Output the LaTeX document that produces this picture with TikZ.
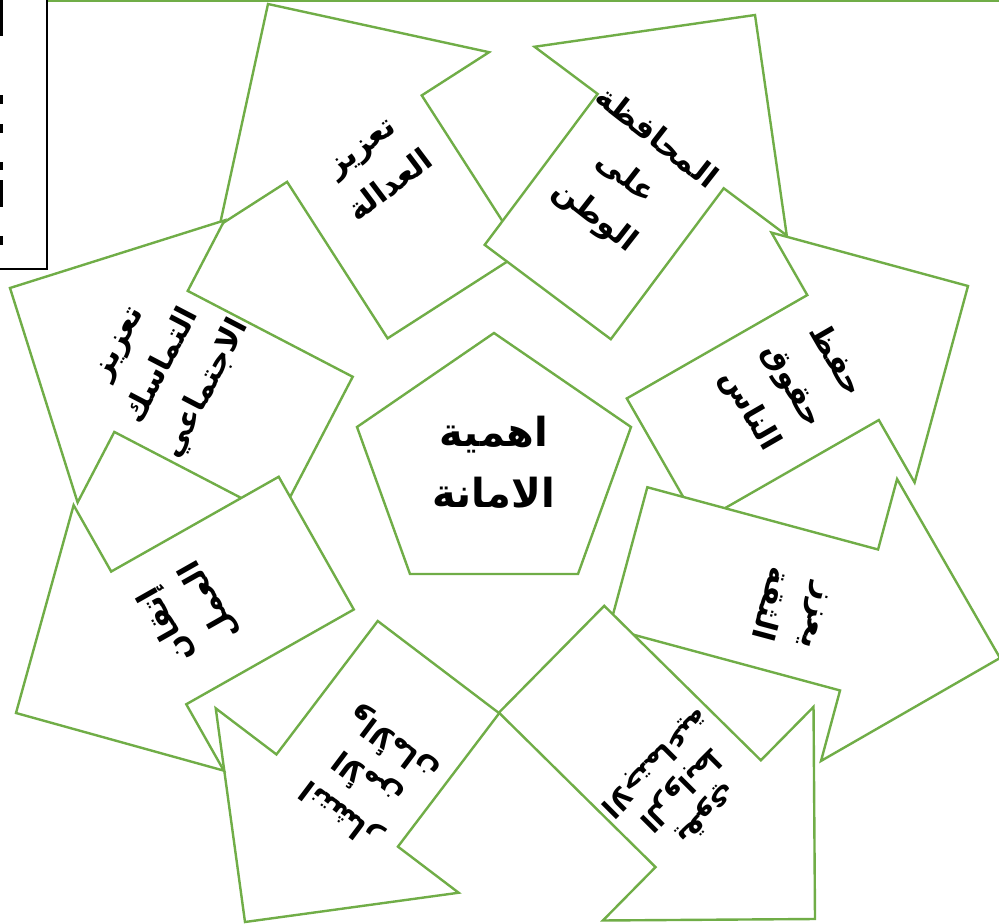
\documentclass[tikz,border=0pt]{standalone}
\usepackage{fontspec}
\newfontfamily\arabicfont[Script=Arabic]{DejaVu Sans}
\TeXXeTstate=1
\definecolor{agreen}{RGB}{112,173,71}
\newcommand\ar[1]{\beginR #1\endR}
\tikzset{
  arr/.style={draw=agreen, fill=white, line width=1.8pt, line join=miter},
  atext/.style={font=\arabicfont\bfseries\fontsize{23}{37}\selectfont, align=center, inner sep=0pt},
  btext/.style={font=\arabicfont\bfseries\fontsize{21}{28}\selectfont, align=center, inner sep=0pt},
  dtext/.style={font=\arabicfont\bfseries\fontsize{22}{33}\selectfont, align=center, inner sep=0pt},
  ctext/.style={font=\arabicfont\bfseries\fontsize{30}{46}\selectfont, align=center, inner sep=0pt},
}
% tip x, tip y, angle (image coords, deg), length, head width
\newcommand\barrow[5]{%
  \begin{scope}[shift={(#1,#2)}, rotate=-#3]
    \draw[arr] (0,0) -- (-#5/2, #5/2) -- (-#5/2, #5/4) -- (-#4, #5/4) -- (-#4,-#5/4) -- (-#5/2,-#5/4) -- (-#5/2,-#5/2) -- cycle;
  \end{scope}}
\begin{document}
\begin{tikzpicture}[x=0.75pt,y=-0.75pt]
\useasboundingbox (0,0) rectangle (999,924);
% top green line and black box
\draw[agreen, line width=1.8pt] (47,1) -- (999,1);
\draw[black, line width=2.2pt] (-5,-5) rectangle (47,269);
\foreach \a/\b in {0/36,95/104,124/133,162/170,180/207,236/245}
  \fill[black] (0,\a) rectangle (3,\b);
% arrows (bottom to top)
\barrow{268}{4}{-122.7}{346}{320}   % TL
\barrow{755}{15}{-53.2}{346}{315}   % TR
\barrow{10}{288}{207.5}{345}{318}   % L
\barrow{968}{286}{-29.8}{352}{288}  % R
\barrow{1000}{658}{15.1}{385}{292}  % LR
\barrow{245}{922}{127.2}{320}{305}  % BL
\barrow{16}{713}{150.5}{345}{305}   % LL
\barrow{815}{919}{44.6}{370}{300}   % BR
% central pentagon
\draw[arr] (494,333) -- (631,427) -- (578,574) -- (410,574) -- (357,427) -- cycle;
% texts
\node[ctext] (c) at (494,462) {\ar{اهمية}\\\ar{الامانة}};
\node[atext, rotate=37] (tl) at (377,168) {\ar{تعزيز}\\\ar{العدالة}};
\node[atext, rotate=-38] (tr) at (625,178) {\ar{المحافظة}\\\ar{على}\\\ar{الوطن}};
\node[atext, rotate=62.5] (l) at (166,368) {\ar{تعزيز}\\\ar{التماسك}\\\ar{الاجتماعي}};
\node[atext, rotate=-60] (r) at (792,386) {\ar{حفظ}\\\ar{حقوق}\\\ar{الناس}};
\node[atext, rotate=-105] (lr) at (792,610) {\ar{يعزز}\\\ar{الثقة}};
\node[btext, rotate=-135] (br) at (680,788) {\ar{يقوي}\\\ar{الروابط}\\\ar{الاجتماعية}};
\node[dtext, rotate=143] (bl) at (368,778) {\ar{انتشار}\\\ar{الأمن}\\\ar{والأمان}};
\node[atext, rotate=119.5] (ll) at (188,613) {\ar{إتقان}\\\ar{العمل}};
\end{tikzpicture}
\end{document}
